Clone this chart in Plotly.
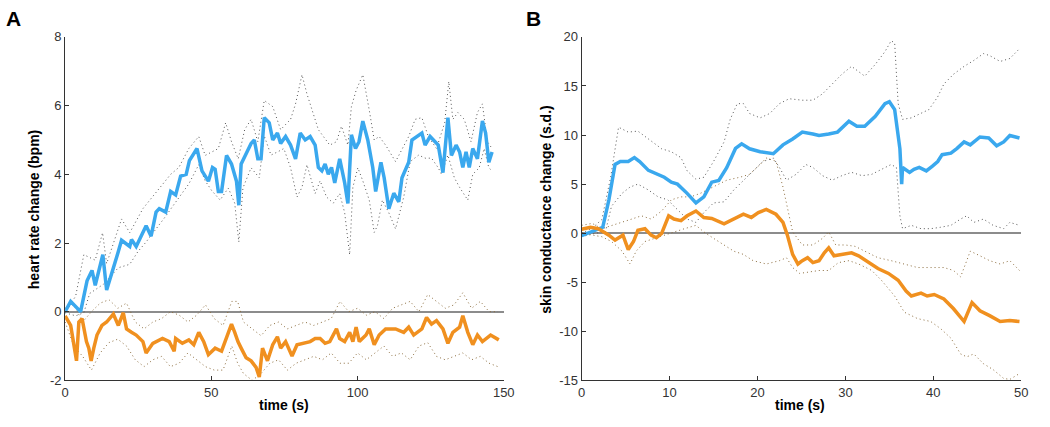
import plotly.graph_objects as go

# ---------------- Panel A: heart rate change ----------------
a_blue_t = [0, 1.9, 5.3, 7.5, 9.2, 10.3, 12.9, 14.2, 18.2, 19.3, 22.1, 22.7, 24.3, 27.7, 29.4, 31.1, 32.2, 34.4,
            36.1, 37.8, 39.5, 41.4, 42.5, 45.1, 46.8, 49.0, 50.4, 51.3, 52.4, 53.5, 55.2, 56.9, 58.6, 59.4, 60.2,
            63.6, 64.7, 65.9, 67.0, 68.1, 69.8, 71.0, 72.6, 73.7, 75.4, 77.1, 78.8, 80.4, 82.1, 83.8, 85.5, 86.6,
            87.8, 88.9, 90.0, 91.1, 92.2, 93.9, 95.6, 96.7, 97.9, 99.3, 100.5, 101.8, 103.5, 105.2, 106.2, 108.0,
            109.1, 110.7, 112.4, 114.1, 115.2, 117.5, 118.6, 120.3, 122.0, 123.1, 124.8, 127.6, 129.2, 130.9,
            132.1, 133.7, 134.9, 136.0, 137.1, 138.2, 139.4, 141.0, 142.7, 143.8, 144.9, 146.0]
a_blue_v = [0, 0.3, 0, 0.9, 1.2, 0.77, 1.66, 0.63, 1.75, 2.08, 1.9, 2.1, 1.9, 2.5, 2.2, 2.9, 3.0, 2.9,
            3.5, 3.4, 3.95, 4.0, 4.4, 4.75, 4.1, 3.8, 4.2, 4.15, 3.5, 3.5, 4.55, 4.3, 3.8, 3.1, 4.3,
            4.9, 5.0, 4.45, 4.45, 5.65, 5.5, 5.0, 5.2, 4.9, 5.1, 4.85, 4.45, 5.2, 5.0, 5.1, 4.85, 4.2,
            4.1, 4.3, 4.0, 4.2, 3.75, 4.45, 3.75, 3.15, 5.15, 4.75, 4.95, 5.55, 5.0, 4.2, 3.5, 4.35,
            3.9, 3.0, 3.45, 3.2, 3.9, 4.35, 5.0, 5.1, 5.2, 4.85, 5.1, 4.85, 4.05, 5.65,
            4.55, 4.85, 4.65, 4.2, 4.65, 4.2, 4.75, 4.45, 5.55, 5.2, 4.35, 4.65]

a_blue_hi_t = [0, 3.6, 6.4, 10.3, 12.8, 14.2, 19.3, 22.1, 26.6, 32.2, 36.1, 38.9, 42.3, 45.7, 47.9, 52.4, 54.9,
               56.9, 59.2, 61.4, 63.6, 65.9, 68.1, 71.0, 73.7, 77.1, 78.8, 81.0, 82.7, 86.6, 88.3, 90.5, 92.8,
               94.5, 96.7, 97.9, 99.5, 101.8, 104.0, 105.7, 107.4, 109.6, 113.0, 115.2, 117.5, 119.7, 122.0,
               124.2, 127.0, 129.8, 131.2, 132.6, 134.3, 136.5, 138.8, 141.0, 142.7, 144.4, 146.0]
a_blue_hi_v = [0, 0.45, 1.66, 1.5, 2.3, 1.4, 2.7, 2.3, 3.0, 3.6, 4.0, 4.2, 4.75, 5.1, 4.55, 4.75, 5.5,
               4.95, 4.45, 5.3, 5.6, 4.95, 6.15, 5.97, 5.3, 5.6, 6.05, 6.9, 6.34, 5.3, 5.1, 4.85, 4.95,
               5.4, 4.85, 5.97, 6.44, 6.9, 5.87, 5.0, 5.1, 4.85, 4.37, 4.75, 5.1, 5.6, 5.65,
               5.1, 4.75, 5.5, 6.7, 5.6, 5.8, 5.6, 4.95, 5.8, 6.05, 4.95, 4.75]

a_blue_lo_t = [0, 3.6, 6.4, 8.4, 13.1, 18.2, 22.1, 24.9, 27.7, 31.1, 34.4, 36.7, 40.1, 42.3, 45.7, 47.9, 50.1,
               53.0, 55.8, 58.0, 59.4, 60.8, 63.6, 66.4, 68.1, 70.4, 72.6, 74.8, 77.1, 79.3, 81.0, 82.7, 85.5,
               87.2, 89.4, 91.7, 93.9, 95.6, 97.3, 98.4, 100.1, 101.8, 104.0, 105.7, 106.8, 108.5, 110.7, 113.0,
               115.8, 118.0, 120.9, 123.1, 125.3, 127.6, 128.7, 130.9, 133.1, 134.9, 137.7, 139.4, 141.6, 143.3,
               144.9, 146.0]
a_blue_lo_v = [-0.03, -0.12, -0.03, 0.53, 0.8, 1.28, 1.38, 1.75, 2.03, 2.4, 2.78, 3.06, 3.44, 3.72, 4.28, 3.81, 3.53,
               3.25, 3.6, 3.16, 2.03, 3.6, 4.19, 3.9, 5.12, 4.56, 4.65, 4.75, 4.19, 3.34, 3.62, 4.28, 3.44,
               3.81, 3.34, 3.16, 3.44, 2.88, 1.66, 3.62, 4.19, 3.81, 3.25, 2.31, 2.5, 3.25, 2.88, 2.41,
               3.34, 4.37, 4.56, 4.47, 4.47, 4.19, 4.0, 4.56, 3.9, 3.62, 3.25, 4.0, 4.19, 4.75,
               4.19, 4.1]

a_orange_t = [0, 1.9, 3.9, 4.7, 5.8, 7.3, 8.1, 8.9, 9.8, 10.9, 12.6, 14.2, 16.5, 18.2, 19.9, 21.0, 22.7, 24.3,
              26.6, 27.7, 30.0, 33.3, 35.6, 37.3, 37.8, 40.1, 42.3, 44.0, 45.7, 47.4, 49.0, 51.3, 53.5, 55.2,
              56.9, 58.0, 59.1, 60.2, 61.9, 63.6, 65.3, 66.4, 67.5, 69.2, 71.0, 72.6, 73.7, 75.4, 77.6, 79.3,
              81.6, 83.8, 85.5, 87.2, 88.9, 90.5, 92.8, 93.9, 95.6, 97.3, 98.4, 99.5, 100.6, 102.9, 104.0,
              105.7, 107.4, 109.6, 113.0, 115.8, 117.5, 119.2, 122.0, 123.6, 125.3, 127.0, 129.2, 130.9,
              132.6, 134.9, 136.0, 137.7, 139.4, 141.0, 142.7, 145.5, 148.3]
a_orange_v = [-0.12, -0.4, -1.43, -0.3, -0.2, -0.87, -1.06, -1.43, -1.06, -0.68, -0.4, -0.3, -0.07, -0.4, -0.03, -0.5, -0.6, -0.68,
              -0.87, -1.2, -0.92, -0.78, -0.87, -1.15, -0.78, -0.92, -0.82, -0.96, -0.6, -0.87, -1.25, -1.06, -1.15, -0.78,
              -0.36, -0.6, -0.87, -1.06, -1.34, -1.43, -1.62, -1.9, -1.06, -1.43, -0.96, -0.73, -1.06, -0.87, -1.29, -0.96,
              -0.92, -0.87, -0.78, -0.78, -0.92, -0.87, -0.5, -0.78, -0.87, -0.6, -0.87, -0.45, -0.87, -0.68, -0.5,
              -0.96, -0.68, -0.5, -0.5, -0.6, -0.45, -0.68, -0.5, -0.17, -0.36, -0.26, -0.5, -0.92,
              -0.6, -0.45, -0.12, -0.6, -0.96, -0.68, -0.87, -0.68, -0.82]

a_orange_hi_t = [0, 3, 6, 9, 12, 15, 18, 21, 24, 27, 30, 33, 36, 39, 42, 45, 48, 51, 54, 57, 59, 61, 64, 67, 70,
                 73, 76, 79, 82, 85, 88, 91, 94, 97, 100, 103, 106, 109, 112, 115, 118, 121, 124, 127, 130, 133,
                 136, 139, 142, 145, 148]
a_orange_hi_v = [0.1, 0.2, -0.3, 0.0, 0.25, 0.35, 0.1, 0.25, -0.3, -0.5, -0.3, -0.2, 0.0, -0.1, -0.3, -0.1, 0.2, -0.2,
                 -0.4, 0.3, 0.3, -0.3, -0.5, -0.7, -0.4, -0.3, -0.5, -0.4, -0.3, -0.4, -0.3, -0.2, 0.3, 0.0, 0.1,
                 -0.1, 0.0, -0.2, 0.1, 0.2, 0.3, 0.0, 0.5, 0.3, 0.1, 0.2, 0.55, 0.1, 0.3, 0.0, 0.0]

a_orange_lo_t = a_orange_hi_t
a_orange_lo_v = [-0.3, -1.0, -1.3, -1.7, -1.2, -0.9, -0.8, -1.0, -1.4, -1.6, -1.4, -1.3, -1.6, -1.5, -1.2, -1.4, -1.6,
                 -1.7, -1.7, -1.0, -1.5, -1.8, -2.0, -1.8, -1.5, -1.4, -1.7, -1.5, -1.4, -1.3, -1.4, -1.2, -1.5, -1.5,
                 -1.2, -1.4, -1.2, -1.0, -1.3, -1.2, -1.4, -1.0, -0.9, -1.3, -1.4, -1.3, -1.2, -1.4, -1.3, -1.5, -1.6]

# ---------------- Panel B: skin conductance change ----------------
b_blue_t = [0, 1.2, 2.4, 3.1, 3.8, 4.4, 5.3, 6.0, 6.6, 7.6, 8.7, 9.4, 10.2, 10.9, 12.0, 13.0, 13.9, 14.8, 15.6,
            16.5, 17.5, 18.2, 19.1, 20.3, 21.8, 22.9, 24.0, 25.1, 26.3, 27.0, 28.1, 29.1, 30.4, 31.3, 32.2, 33.4,
            34.5, 35.0, 35.6, 36.2, 36.4, 36.5, 37.3, 37.8, 38.4, 39.2, 39.9, 40.5, 41.0, 42.0, 42.7, 43.5, 44.2,
            45.3, 46.3, 47.2, 48.0, 48.7, 49.8]
b_blue_v = [-0.26, 0.13, 0.6, 3.4, 7.0, 7.3, 7.3, 7.7, 7.3, 6.4, 6.0, 5.7, 5.2, 5.0, 4.06, 3.08, 3.7, 5.2, 5.37,
            6.68, 8.64, 9.1, 8.6, 8.3, 8.1, 9.0, 9.6, 10.3, 10.1, 9.95, 10.1, 10.3, 11.4, 10.9, 10.9, 11.9,
            13.2, 13.4, 12.6, 8.6, 5.0, 6.7, 6.2, 6.5, 6.7, 6.35, 6.84, 7.3, 8.0, 8.15, 8.64, 9.3, 9.0,
            9.8, 9.7, 8.9, 9.3, 9.95, 9.7]

b_blue_hi_t = [0, 1.2, 2.3, 3.3, 4.2, 5.3, 6.4, 7.6, 9.1, 10.2, 11.3, 12.0, 13.0, 13.9, 15.0, 16.2, 16.9, 17.7,
               18.4, 19.1, 20.3, 21.4, 22.5, 23.6, 25.1, 26.3, 27.4, 28.5, 29.6, 30.7, 31.5, 32.2, 33.4, 34.5,
               35.2, 35.6, 36.0, 36.5, 37.5, 38.6, 39.5, 40.5, 41.2, 42.3, 43.5, 44.6, 45.7, 46.4, 47.6, 48.7, 49.8]
b_blue_hi_v = [0, 0.5, 1.4, 5.7, 10.8, 10.3, 10.4, 9.6, 8.6, 8.3, 7.7, 6.35, 5.5, 5.7, 7.3, 9.3, 11.6, 13.2,
               13.2, 12.2, 11.75, 12.2, 13.2, 13.7, 13.55, 13.55, 14.2, 15.2, 16.2, 17.0, 16.5, 16.0, 17.2, 18.5,
               19.6, 19.4, 13.2, 11.6, 11.75, 12.2, 12.6, 13.9, 15.2, 16.2, 17.0, 17.6, 18.3, 18.1, 17.5, 17.8, 18.8]

b_blue_lo_t = [0, 1.6, 2.7, 3.4, 4.6, 5.5, 6.4, 7.6, 8.7, 9.8, 10.5, 11.3, 12.0, 13.0, 13.9, 15.0, 16.2, 17.3,
               18.4, 19.5, 20.6, 21.8, 22.5, 23.3, 24.4, 25.5, 26.3, 27.4, 28.5, 29.6, 30.7, 31.9, 33.0, 34.1,
               35.2, 35.8, 36.2, 36.5, 37.5, 38.6, 39.7, 40.8, 42.0, 43.1, 43.8, 44.6, 45.7, 46.8, 48.0, 48.7, 49.8]
b_blue_lo_v = [-0.36, 0, 0.13, 2.75, 4.06, 4.7, 5.0, 4.4, 3.7, 3.4, 2.75, 2.1, 1.44, 1.1, 2.1, 3.08, 3.2, 4.4,
               5.4, 6.35, 7.3, 7.66, 6.7, 5.4, 6.0, 7.0, 6.7, 5.86, 5.4, 5.86, 6.2, 5.86, 6.0, 6.5,
               7.0, 6.7, 1.77, 0.46, 0.8, 0.46, 0.46, 0.6, 0.8, 1.44, 1.77, 1.1, 1.44, 0.8, 0.46, 1.1, 0.8]

b_orange_t = [0, 1.0, 1.9, 3.1, 3.8, 4.7, 5.3, 5.9, 6.4, 7.2, 7.9, 8.5, 9.1, 9.9, 10.5, 11.3, 12.0, 13.0, 13.9,
              14.8, 16.2, 17.3, 18.4, 19.3, 20.1, 21.0, 22.1, 22.9, 23.4, 24.0, 24.6, 25.1, 25.7, 26.3, 27.0,
              27.6, 28.1, 28.7, 29.6, 30.7, 31.5, 32.6, 33.7, 34.9, 36.0, 36.9, 37.5, 38.6, 39.3, 40.1, 41.2,
              42.3, 43.5, 44.4, 45.3, 46.4, 47.6, 48.7, 49.8]
b_orange_v = [0.4, 0.6, 0.46, -0.2, -0.7, -0.2, -1.67, -0.85, 0.3, 0.46, -0.2, -0.46, -0.03, 1.77, 1.44, 1.28, 1.77, 2.26, 1.6,
              1.5, 0.95, 1.44, 1.93, 1.6, 2.1, 2.42, 1.93, 1.1, -0.2, -2.16, -3.14, -2.8, -2.5, -3.0, -2.8,
              -2.0, -1.5, -2.3, -2.16, -2.0, -2.3, -3.0, -3.6, -4.1, -4.8, -5.9, -6.4, -6.1, -6.4, -6.25, -6.7,
              -7.7, -9.0, -7.07, -7.9, -8.4, -9.0, -8.9, -9.0]

b_orange_hi_t = [0, 1.2, 2.3, 3.4, 4.6, 5.7, 6.8, 7.9, 9.1, 10.2, 11.3, 12.4, 13.5, 15.0, 16.5, 18.0, 19.1, 20.3,
                 21.0, 22.1, 22.9, 24.0, 25.1, 26.3, 27.4, 28.1, 28.9, 30.0, 31.1, 32.2, 33.7, 35.2, 36.7, 38.2,
                 39.7, 41.2, 42.3, 43.1, 43.8, 44.2, 45.3, 46.4, 47.6, 48.7, 49.8]
b_orange_hi_v = [0.8, 1.0, 0.46, 0.8, 1.1, 1.44, 1.77, 1.44, 2.26, 3.4, 3.7, 3.7, 4.06, 4.7, 5.4, 5.7, 6.0, 7.0,
                 7.66, 7.33, 4.7, 0.13, -1.2, -1.2, -0.52, 0.13, -1.2, -1.2, -1.34, -1.83, -2.5, -2.8, -3.14, -3.5,
                 -3.5, -3.5, -3.8, -4.45, -2.8, -1.83, -2.3, -2.8, -3.14, -2.8, -3.8]

b_orange_lo_t = [0, 1.2, 2.3, 3.4, 4.6, 5.5, 6.2, 7.2, 8.3, 9.4, 10.5, 11.7, 13.0, 13.9, 15.0, 16.2, 17.3, 18.4,
                 19.5, 21.0, 22.5, 23.3, 24.0, 24.8, 25.9, 27.0, 28.1, 29.2, 30.4, 31.5, 33.0, 34.1, 35.6, 36.7,
                 38.2, 39.7, 40.8, 42.0, 43.1, 43.8, 44.6, 45.7, 46.8, 48.0, 48.7, 49.8]
b_orange_lo_v = [0, -0.2, -0.36, -0.85, -1.83, -3.14, -1.83, -0.85, -0.52, -0.2, 0.13, 0.46, 0.8, 0.13, -0.52, -1.2,
                 -1.83, -2.16, -2.8, -3.14, -2.8, -2.5, -3.5, -4.1, -3.96, -3.8, -3.8, -3.0, -2.8, -3.14, -3.8, -4.8,
                 -6.4, -8.05, -8.7, -9.0, -9.7, -10.7, -12.3, -12.6, -12.3, -13.3, -13.9, -14.8, -14.9, -14.3]

a_yticks = [-2, 0, 2, 4, 6, 8]
a_xticks = [0, 50, 100, 150]
b_yticks = [-15, -10, -5, 0, 5, 10, 15, 20]
b_xticks = [0, 10, 20, 30, 40, 50]

BLUE = "#3aa8ee"
ORANGE = "#f0901f"
GRAY_DOT = "#555555"
BROWN_DOT = "#8a6b3c"
AXIS = "#333333"
FONT = "Liberation Sans, Arial, sans-serif"

fig = go.Figure()

def add(x, y, color, width, dash, xa, ya):
    fig.add_trace(go.Scatter(x=x, y=y, mode="lines", xaxis=xa, yaxis=ya,
                             line=dict(color=color, width=width, dash=dash),
                             showlegend=False, hoverinfo="skip"))

DOT = "1px,3px"
# Panel A
add(a_blue_hi_t, a_blue_hi_v, GRAY_DOT, 1, DOT, "x", "y")
add(a_blue_lo_t, a_blue_lo_v, GRAY_DOT, 1, DOT, "x", "y")
add(a_orange_hi_t, a_orange_hi_v, BROWN_DOT, 1, DOT, "x", "y")
add(a_orange_lo_t, a_orange_lo_v, BROWN_DOT, 1, DOT, "x", "y")
add(a_blue_t, a_blue_v, BLUE, 3.5, "solid", "x", "y")
add(a_orange_t, a_orange_v, ORANGE, 3.5, "solid", "x", "y")
# Panel B
add(b_blue_hi_t, b_blue_hi_v, GRAY_DOT, 1, DOT, "x2", "y2")
add(b_blue_lo_t, b_blue_lo_v, GRAY_DOT, 1, DOT, "x2", "y2")
add(b_orange_hi_t, b_orange_hi_v, BROWN_DOT, 1, DOT, "x2", "y2")
add(b_orange_lo_t, b_orange_lo_v, BROWN_DOT, 1, DOT, "x2", "y2")
add(b_blue_t, b_blue_v, BLUE, 3.5, "solid", "x2", "y2")
add(b_orange_t, b_orange_v, ORANGE, 3.5, "solid", "x2", "y2")

W, H = 1050, 427
ydom = [(H - 387) / H, (H - 31) / H]

def xax(dom, rng, ticks):
    return dict(domain=dom, range=rng, tickvals=ticks, ticktext=[str(v) for v in ticks],
                ticks="inside", ticklen=4, tickcolor=AXIS,
                showline=True, linecolor=AXIS, linewidth=1, mirror=False, showgrid=False, zeroline=False,
                tickfont=dict(family=FONT, size=13, color="#333333"), fixedrange=True)

def yax(dom, rng, ticks, anchor):
    return dict(domain=dom, range=rng, tickvals=ticks, ticktext=[str(v) for v in ticks],
                ticks="inside", ticklen=4, tickcolor=AXIS,
                showline=True, linecolor=AXIS, linewidth=1, mirror=False, showgrid=False,
                zeroline=True, zerolinecolor="#8c8c8c", zerolinewidth=2, anchor=anchor,
                tickfont=dict(family=FONT, size=13, color="#333333"), fixedrange=True)

fig.update_layout(
    width=W, height=H,
    margin=dict(l=0, r=0, t=0, b=0),
    paper_bgcolor="white", plot_bgcolor="white",
    xaxis=dict(**xax([62 / W, 507 / W], [0, 150], a_xticks), anchor="y"),
    yaxis=yax(ydom, [-2, 8], a_yticks, "x"),
    xaxis2=dict(**xax([586 / W, 1032 / W], [0, 50], b_xticks), anchor="y2"),
    yaxis2=yax(ydom, [-15, 20], b_yticks, "x2"),
    annotations=[
        dict(text="<b>A</b>", x=10 / W, y=1 - 12 / H, xref="paper", yref="paper", showarrow=False,
             font=dict(family=FONT, size=21, color="black"), xanchor="center", yanchor="middle"),
        dict(text="<b>B</b>", x=537 / W, y=1 - 12 / H, xref="paper", yref="paper", showarrow=False,
             font=dict(family=FONT, size=21, color="black"), xanchor="center", yanchor="middle"),
        dict(text="<b>heart rate change (bpm)</b>", x=30 / W, y=1 - 210 / H, xref="paper", yref="paper",
             showarrow=False, textangle=-90, font=dict(family=FONT, size=14, color="black"),
             xanchor="center", yanchor="middle"),
        dict(text="<b>skin conductance change (s.d.)</b>", x=549 / W, y=1 - 210 / H, xref="paper", yref="paper",
             showarrow=False, textangle=-90, font=dict(family=FONT, size=14, color="black"),
             xanchor="center", yanchor="middle"),
        dict(text="<b>time (s)</b>", x=284 / W, y=1 - 413 / H, xref="paper", yref="paper",
             showarrow=False, font=dict(family=FONT, size=14, color="black"),
             xanchor="center", yanchor="middle"),
        dict(text="<b>time (s)</b>", x=808 / W, y=1 - 413 / H, xref="paper", yref="paper",
             showarrow=False, font=dict(family=FONT, size=14, color="black"),
             xanchor="center", yanchor="middle"),
    ],
)

fig.write_html("out.html", config={"displayModeBar": False, "staticPlot": True},
               post_script="document.body.style.margin='0';document.body.style.overflow='hidden';")
